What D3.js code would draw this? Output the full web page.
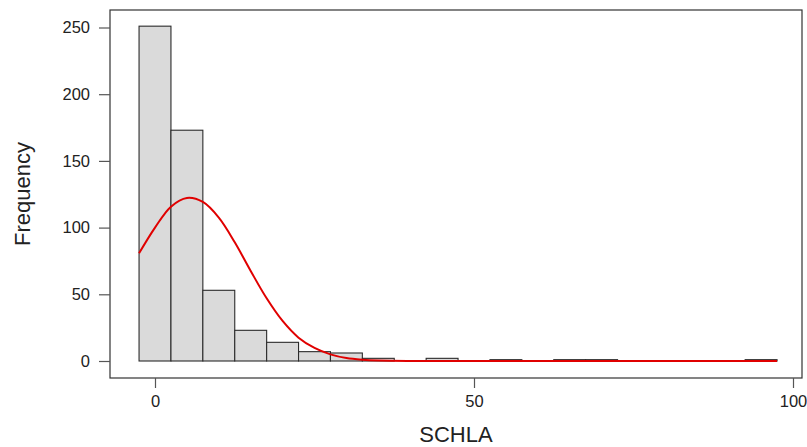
<!DOCTYPE html>
<html>
<head>
<meta charset="utf-8">
<script src="https://cdn.jsdelivr.net/npm/d3@7"></script>
<style>
  html, body { margin: 0; padding: 0; background: #fff; }
  svg { display: block; font-family: "Liberation Sans", Arial, sans-serif; }
</style>
</head>
<body>
<svg id="chart" width="807" height="447"></svg>
<script>
// ---- data ----
const binStart = -2.5;
const binWidth = 5;
const counts = [251, 173, 53, 23, 14, 7, 6, 2, 0, 2, 0, 1, 0, 1, 1, 0, 0, 0, 0, 1];
const curveX = [-2.5, 0, 2.5, 5, 7.5, 10, 12.5, 15, 17.5, 20, 22.5, 25, 27.5, 30, 32.5, 35, 40, 50, 60, 80, 97.5];
const curveY = [80.7, 100, 115.7, 122.2, 119.2, 107.5, 89, 67.5, 47, 30, 17.5, 9.8, 5, 2.2, 0.9, 0.3, 0, 0, 0, 0, 0];
const xTicks = [0, 50, 100];
const yTicks = [0, 50, 100, 150, 200, 250];
const xTitle = "SCHLA";
const yTitle = "Frequency";

// ---- layout ----
const svg = d3.select("#chart");
const frame = { left: 110, top: 10, right: 802, bottom: 378 };
const x = d3.scaleLinear().domain([0, 100]).range([155, 793]);
const y = d3.scaleLinear().domain([0, 250]).range([361, 27.5]);

const bins = counts.map((c, i) => ({ x0: binStart + i * binWidth, x1: binStart + (i + 1) * binWidth, n: c }));

// bars
svg.append("g").selectAll("rect").data(bins).join("rect")
  .attr("x", d => x(d.x0))
  .attr("y", d => y(d.n))
  .attr("width", d => x(d.x1) - x(d.x0))
  .attr("height", d => y(0) - y(d.n))
  .attr("fill", "#dadada")
  .attr("stroke", "#2b2b2b")
  .attr("stroke-width", 1.1);

// normal curve
const pts = curveX.map((v, i) => [v, curveY[i]]);
svg.append("path")
  .datum(pts)
  .attr("d", d3.line().x(d => x(d[0])).y(d => y(Math.max(0, d[1]))).curve(d3.curveCatmullRom.alpha(0.5)))
  .attr("fill", "none")
  .attr("stroke", "#e00000")
  .attr("stroke-width", 2);

// frame
svg.append("rect")
  .attr("x", frame.left).attr("y", frame.top)
  .attr("width", frame.right - frame.left).attr("height", frame.bottom - frame.top)
  .attr("fill", "none").attr("stroke", "#333").attr("stroke-width", 1.2);

// axes
const yAxis = svg.append("g")
  .attr("transform", `translate(${frame.left},0)`)
  .call(d3.axisLeft(y).tickValues(yTicks).tickSize(11).tickSizeOuter(0).tickPadding(9));
const xAxis = svg.append("g")
  .attr("transform", `translate(0,${frame.bottom})`)
  .call(d3.axisBottom(x).tickValues(xTicks).tickSize(10).tickSizeOuter(0).tickPadding(7));
[xAxis, yAxis].forEach(g => {
  g.select(".domain").remove();
  g.selectAll(".tick line").attr("stroke", "#555").attr("stroke-width", 1.2);
  g.selectAll(".tick text").attr("fill", "#222").style("font-size", "16.5px")
    .style("font-family", "'Liberation Sans', Arial, sans-serif");
});

// titles
svg.append("text")
  .attr("x", (frame.left + frame.right) / 2).attr("y", 442)
  .attr("text-anchor", "middle").attr("fill", "#222")
  .style("font-size", "22px").text(xTitle);
svg.append("text")
  .attr("transform", `translate(30,${(frame.top + frame.bottom) / 2}) rotate(-90)`)
  .attr("text-anchor", "middle").attr("fill", "#222")
  .style("font-size", "22px").text(yTitle);
</script>
</body>
</html>
